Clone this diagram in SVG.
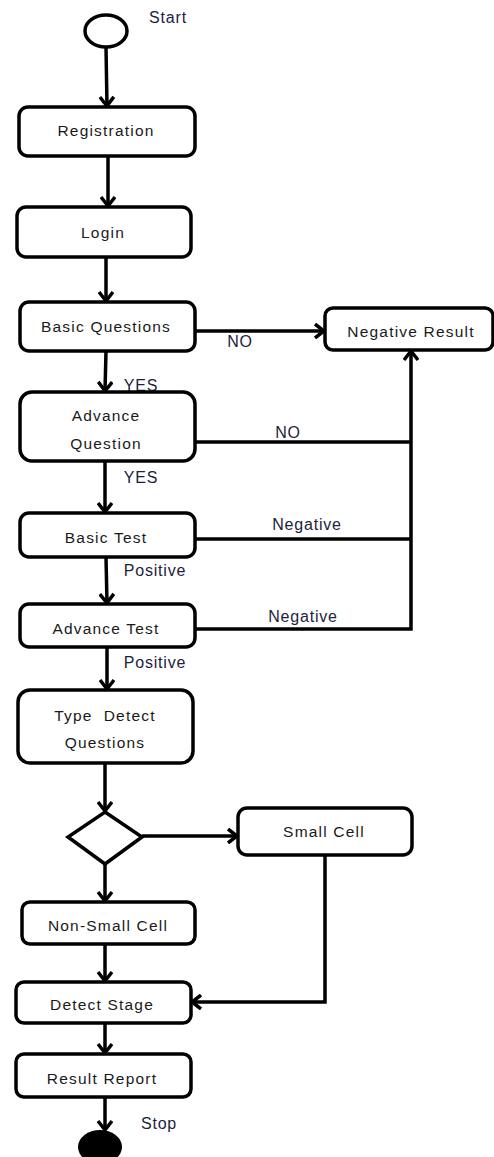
<svg xmlns="http://www.w3.org/2000/svg" width="494" height="1157" viewBox="0 0 494 1157">
<style>
.box{fill:#fff;stroke:#000;stroke-width:3.5}
.t{font-family:"Liberation Sans",Arial,sans-serif;font-size:15.5px;letter-spacing:1.2px;fill:#1a1a1a;text-anchor:middle;dominant-baseline:central}
.lbl{font-family:"Liberation Sans",Arial,sans-serif;font-size:16px;letter-spacing:0.8px;fill:#1c2340;text-anchor:middle;dominant-baseline:central}
.c{fill:none;stroke:#000;stroke-width:3.5;stroke-linejoin:miter}
</style>
<defs>
<marker id="ah" markerUnits="userSpaceOnUse" markerWidth="16" markerHeight="16" refX="13" refY="8" orient="auto">
<path d="M4,1 L13,8 L4,15" fill="none" stroke="#000" stroke-width="3.5"/>
</marker>
</defs>
<g id="connectors">
<path class="c" d="M106,47 L107,106" marker-end="url(#ah)"/>
<path class="c" d="M108,156 L108,206" marker-end="url(#ah)"/>
<path class="c" d="M106,257 L106,301" marker-end="url(#ah)"/>
<path class="c" d="M195,331 L324,331" marker-end="url(#ah)"/>
<path class="c" d="M106,351 L105,391" marker-end="url(#ah)"/>
<path class="c" d="M195,442 L411,442"/>
<path class="c" d="M195,539 L411,539"/>
<path class="c" d="M195,629 L411,629 L411,351" marker-end="url(#ah)"/>
<path class="c" d="M105,461 L105,512" marker-end="url(#ah)"/>
<path class="c" d="M106,557 L107,603" marker-end="url(#ah)"/>
<path class="c" d="M107,647 L107,689" marker-end="url(#ah)"/>
<path class="c" d="M105,763 L105,811" marker-end="url(#ah)"/>
<path class="c" d="M142,836 L237,836" marker-end="url(#ah)"/>
<path class="c" d="M105,864 L105,901" marker-end="url(#ah)"/>
<path class="c" d="M105,944 L105,981" marker-end="url(#ah)"/>
<path class="c" d="M325,855 L325,1002 L192,1002" marker-end="url(#ah)"/>
<path class="c" d="M105,1023 L105,1053" marker-end="url(#ah)"/>
<path class="c" d="M105,1097 L105,1130" marker-end="url(#ah)"/>
<text class="lbl" x="240" y="341">NO</text>
<text class="lbl" x="141" y="385">YES</text>
<text class="lbl" x="288" y="432">NO</text>
<text class="lbl" x="141" y="477">YES</text>
<text class="lbl" x="307" y="524">Negative</text>
<text class="lbl" x="155" y="570">Positive</text>
<text class="lbl" x="303" y="616">Negative</text>
<text class="lbl" x="155" y="662">Positive</text>
</g>
<g id="start">
<ellipse cx="106" cy="31" rx="21" ry="16" fill="#fff" stroke="#000" stroke-width="3.5"/>
<text class="lbl" x="168" y="17">Start</text>
</g>
<g id="registration">
<rect class="box" x="19" y="107" width="176" height="49" rx="9"/>
<text class="t" x="106" y="130">Registration</text>
</g>
<g id="login">
<rect class="box" x="17" y="207" width="174" height="50" rx="9"/>
<text class="t" x="103" y="232">Login</text>
</g>
<g id="basic-questions">
<rect class="box" x="20" y="302" width="175" height="49" rx="9"/>
<text class="t" x="106" y="326">Basic Questions</text>
</g>
<g id="negative-result">
<rect class="box" x="325" y="308" width="168" height="42" rx="8"/>
<text class="t" x="411" y="331">Negative Result</text>
</g>
<g id="advance-question">
<rect class="box" x="20" y="392" width="175" height="69" rx="12"/>
<text class="t" x="106" y="415">Advance</text>
<text class="t" x="106" y="443">Question</text>
</g>
<g id="basic-test">
<rect class="box" x="20" y="513" width="175" height="44" rx="9"/>
<text class="t" x="106" y="537">Basic Test</text>
</g>
<g id="advance-test">
<rect class="box" x="20" y="604" width="175" height="43" rx="9"/>
<text class="t" x="106" y="628">Advance Test</text>
</g>
<g id="type-detect">
<rect class="box" x="18" y="690" width="175" height="73" rx="12"/>
<text class="t" x="105" y="715">Type&#160; Detect</text>
<text class="t" x="105" y="742">Questions</text>
</g>
<g id="decision">
<polygon points="105,812 142,837 105,864 68,837" fill="#fff" stroke="#000" stroke-width="3.5"/>
</g>
<g id="small-cell">
<rect class="box" x="238" y="808" width="174" height="47" rx="9"/>
<text class="t" x="324" y="831">Small Cell</text>
</g>
<g id="non-small-cell">
<rect class="box" x="22" y="902" width="173" height="42" rx="8"/>
<text class="t" x="108" y="925">Non-Small Cell</text>
</g>
<g id="detect-stage">
<rect class="box" x="16" y="982" width="175" height="41" rx="8"/>
<text class="t" x="102" y="1004">Detect Stage</text>
</g>
<g id="result-report">
<rect class="box" x="16" y="1054" width="175" height="43" rx="8"/>
<text class="t" x="102" y="1078">Result Report</text>
</g>
<g id="stop">
<ellipse cx="100" cy="1147" rx="22" ry="17" fill="#000"/>
<text class="lbl" x="159" y="1123">Stop</text>
</g>
</svg>
